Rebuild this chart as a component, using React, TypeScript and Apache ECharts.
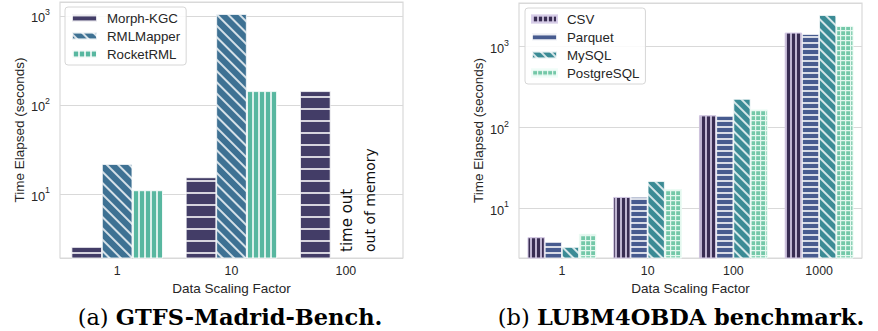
import React, { useEffect, useRef } from 'react';
import * as echarts from 'echarts';

// ---- Data: (a) GTFS-Madrid-Bench ----
const gtfsCategories = ['1', '10', '100'];
const gtfsMorphKgc = [2.54, 15.4, 143];
const gtfsRmlMapper = [21.7, 1050, null];
const gtfsRocketRml = [11.0, 143, null];
const gtfsYRange = [1.91, 1436];
const gtfsNotes = ['time out', 'out of memory'];

// ---- Data: (b) LUBM4OBDA benchmark ----
const lubmCategories = ['1', '10', '100', '1000'];
const lubmCsv = [4.38, 13.8, 141, 1490];
const lubmParquet = [3.84, 13.9, 139, 1435];
const lubmMySql = [3.33, 21.7, 226, 2460];
const lubmPostgreSql = [4.82, 17.2, 167, 1800];
const lubmYRange = [2.43, 3470];

const captions = [
  ['(a) ', 'GTFS-Madrid-Bench.'],
  ['(b) ', 'LUBM4OBDA benchmark.'],
];

const SANS = '"Liberation Sans", Arial, sans-serif';
const TXT = '#262626';
const GRIDC = '#d9d9d9';

const hLines = (gap: number, color: string) => ({
  symbol: 'rect', symbolSize: 1, dashArrayX: [5, 0], dashArrayY: [1.2, gap - 1.2], color,
});
const vLines = (gap: number, w: number, color: string) => ({
  symbol: 'rect', symbolSize: 1, dashArrayX: [w, gap - w], dashArrayY: [5, 0], color,
});
const dLines = (gap: number, color: string) => ({
  symbol: 'rect', symbolSize: 1, dashArrayX: [5, 0], dashArrayY: [1.2, gap - 1.2], rotation: Math.PI / 4, color,
});
const gridCells = (cell: number, color: string) => ({
  symbol: 'path://M0 0H10V2.4H2.4V10H0Z', symbolSize: 1, symbolKeepAspect: false,
  dashArrayX: [cell, 0], dashArrayY: [cell, 0], color,
});

const powLabel = (v: number) => {
  const e = Math.log10(v);
  const r = Math.round(e);
  if (Math.abs(e - r) > 1e-6) return '';
  return `{b|10}{s|${r}}`;
};
const richSup = {
  b: { fontSize: 12.8, lineHeight: 14, padding: [4, 0, 0, 0], fontFamily: SANS, color: TXT },
  s: { fontSize: 8.8, lineHeight: 10, padding: [0, 0, 8, 0], fontFamily: SANS, color: TXT },
};

function yAxis(gridIndex: number, range: number[], nameGap: number) {
  return {
    type: 'log', logBase: 10, gridIndex, min: range[0], max: range[1],
    name: 'Time Elapsed (seconds)', nameLocation: 'middle', nameGap,
    nameTextStyle: { fontSize: 13.5, fontFamily: SANS, color: TXT },
    axisLine: { show: false }, axisTick: { show: false },
    splitLine: { show: true, lineStyle: { color: GRIDC, width: 1 } },
    minorSplitLine: { show: false },
    axisLabel: { formatter: powLabel, rich: richSup, margin: 10, showMinLabel: false, showMaxLabel: false },
  };
}
function xAxis(gridIndex: number, data: string[]) {
  return {
    type: 'category', gridIndex, data,
    name: 'Data Scaling Factor', nameLocation: 'middle', nameGap: 23,
    nameTextStyle: { fontSize: 13.5, fontFamily: SANS, color: TXT },
    axisLine: { show: false }, axisTick: { show: false }, splitLine: { show: false },
    axisLabel: { fontSize: 12.4, fontFamily: SANS, color: TXT, margin: 7 },
  };
}
function bar(name: string, data: (number | null)[], idx: number, color: string, decal: any, edge: string) {
  return {
    type: 'bar', name, data, xAxisIndex: idx, yAxisIndex: idx,
    barGap: '0%', barCategoryGap: '20%',
    itemStyle: { color, borderColor: edge, borderWidth: 0.8, decal },
  };
}
function legend(left: number, top: number, names: string[]) {
  return {
    data: names, orient: 'vertical', left, top, itemWidth: 25, itemHeight: 7, itemGap: 3,
    icon: 'rect', padding: [3.5, 6, 3.5, 6],
    backgroundColor: 'rgba(255,255,255,0.85)', borderColor: '#d6d6d6', borderWidth: 1, borderRadius: 3,
    textStyle: { fontSize: 13.3, fontFamily: SANS, color: TXT, lineHeight: 15, padding: [0, 0, 0, 5] },
  };
}

export default function App() {
  const ref = useRef<HTMLDivElement>(null);
  useEffect(() => {
    document.body.style.margin = '0';
    const chart = echarts.init(ref.current!, undefined, { renderer: 'svg' });
    const W = 'rgba(255,255,255,0.78)';
    chart.setOption({
      animation: false,
      backgroundColor: '#ffffff',
      textStyle: { fontFamily: SANS },
      grid: [
        { left: 60, top: 2, width: 343, height: 256, show: true, borderColor: GRIDC, borderWidth: 1.2, backgroundColor: 'transparent' },
        { left: 519, top: 3, width: 343, height: 255, show: true, borderColor: GRIDC, borderWidth: 1.2, backgroundColor: 'transparent' },
      ],
      xAxis: [xAxis(0, gtfsCategories), xAxis(1, lubmCategories)],
      yAxis: [yAxis(0, gtfsYRange, 34), yAxis(1, lubmYRange, 31)],
      legend: [
        legend(65, 7, ['Morph-KGC', 'RMLMapper', 'RocketRML']),
        legend(525, 8, ['CSV', 'Parquet', 'MySQL', 'PostgreSQL']),
      ],
      series: [
        bar('Morph-KGC', gtfsMorphKgc, 0, '#433d67', hLines(11, W), 'rgba(255,255,255,0.6)'),
        bar('RMLMapper', gtfsRmlMapper, 0, '#3e7193', dLines(7, W), 'rgba(255,255,255,0.6)'),
        bar('RocketRML', gtfsRocketRml, 0, '#58b7a0', vLines(5, 1.2, W), 'rgba(255,255,255,0.6)'),
        bar('CSV', lubmCsv, 1, '#392d53', vLines(4, 1.3, 'rgba(215,205,232,0.85)'), 'rgba(215,205,232,0.8)'),
        bar('Parquet', lubmParquet, 1, '#475b8f', hLines(4.7, W), 'rgba(255,255,255,0.6)'),
        bar('MySQL', lubmMySql, 1, '#3b8b95', dLines(5.7, W), 'rgba(255,255,255,0.6)'),
        bar('PostgreSQL', lubmPostgreSql, 1, '#74c8a8', gridCells(4.6, 'rgba(240,252,247,0.9)'), 'rgba(240,252,247,0.9)'),
      ],
    });

    // annotations placed from the axis scale
    const p = chart.convertToPixel({ xAxisIndex: 0, yAxisIndex: 0 }, [2, gtfsYRange[0]]) as number[];
    const slot = 343 / gtfsCategories.length * 0.8 / 3;
    const capRich = { r: { font: '22.5px "DejaVu Serif"', fill: '#000' }, b: { font: 'bold 22.5px "DejaVu Serif"', fill: '#000' } };
    chart.setOption({
      graphic: [
        { type: 'text', x: p[0] + 1, y: p[1] - 6, rotation: Math.PI / 2,
          style: { text: gtfsNotes[0], font: '15px "DejaVu Sans"', fill: '#111', align: 'left', verticalAlign: 'middle' } },
        { type: 'text', x: p[0] + slot - 6, y: p[1] - 6, rotation: Math.PI / 2,
          style: { text: gtfsNotes[1], font: '14px "DejaVu Sans"', fill: '#111', align: 'left', verticalAlign: 'middle' } },
        { type: 'text', x: 230, y: 317,
          style: { text: `{r|${captions[0][0]}}{b|${captions[0][1]}}`, align: 'center', verticalAlign: 'middle', rich: capRich } },
        { type: 'text', x: 681, y: 317,
          style: { text: `{r|${captions[1][0]}}{b|${captions[1][1]}}`, align: 'center', verticalAlign: 'middle', rich: capRich } },
      ],
    });
    return () => chart.dispose();
  }, []);
  return <div ref={ref} style={{ width: 878, height: 331 }} />;
}
